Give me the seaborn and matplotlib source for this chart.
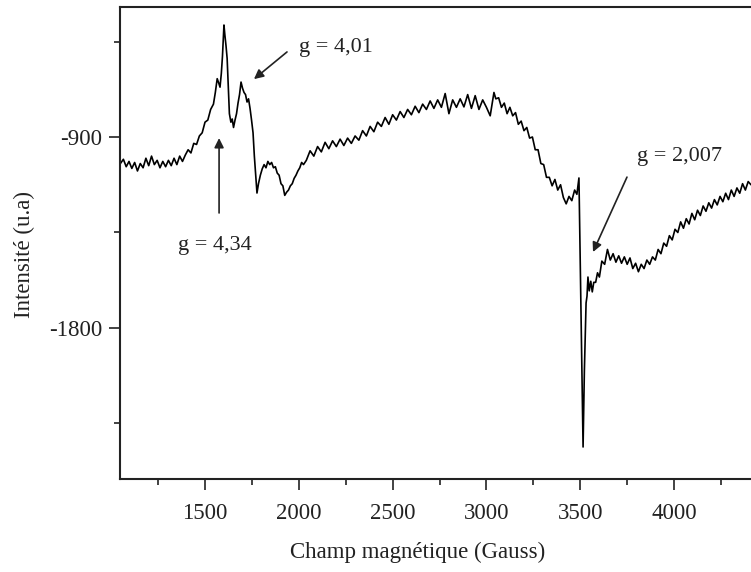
import pandas as pd
import matplotlib
matplotlib.use('Agg')
import matplotlib.pyplot as plt
from matplotlib.ticker import MultipleLocator
import seaborn as sns

# EPR spectrum, split by region
# field in Gauss, intensity in arbitrary units (u.a)

# flat low-field baseline
field_base = [1045, 1065, 1080, 1095, 1110, 1125, 1140, 1155, 1170, 1185, 1200, 1215,
              1230, 1245, 1260, 1275, 1290, 1305, 1320, 1335, 1350, 1365, 1380, 1395]
intens_base = [-1030, -1005, -1040, -1015, -1048, -1020, -1060, -1025, -1045, -1000, -1035, -990,
               -1030, -1010, -1045, -1015, -1040, -1010, -1035, -1000, -1030, -990, -1015, -985]

# g = 4,34 line
field_g434 = [1410, 1425, 1440, 1455, 1470, 1485, 1500, 1515, 1530, 1545, 1555, 1565,
              1573, 1580, 1587, 1593, 1598, 1601, 1606, 1612, 1618, 1624, 1630]
intens_g434 = [-960, -975, -930, -935, -895, -880, -830, -820, -770, -745, -690, -625,
               -645, -665, -600, -520, -430, -372, -420, -470, -530, -660, -790]

# g = 4,01 line
field_g401 = [1638, 1645, 1652, 1660, 1668, 1676, 1684, 1692, 1700, 1708, 1716, 1724,
              1732, 1740, 1748, 1756, 1763, 1770, 1777]
intens_g401 = [-830, -815, -855, -820, -790, -740, -700, -641, -670, -690, -700, -735,
               -720, -765, -820, -880, -990, -1080, -1164]

# dip after the g = 4 lines
field_dip = [1785, 1795, 1805, 1815, 1825, 1835, 1845, 1855, 1865, 1875, 1885, 1895,
             1905, 1915, 1925, 1935, 1945, 1955, 1965, 1975, 1985, 1995, 2005, 2015, 2025]
intens_dip = [-1120, -1080, -1050, -1030, -1045, -1015, -1030, -1020, -1045, -1040, -1070, -1080,
              -1120, -1130, -1175, -1160, -1150, -1130, -1120, -1095, -1080, -1060, -1045, -1020, -1030]

# broad hump
field_broad = [2040, 2060, 2080, 2100, 2120, 2140, 2160, 2180, 2200, 2220,
               2240, 2260, 2280, 2300, 2320, 2340, 2360, 2380, 2400, 2420,
               2440, 2460, 2480, 2500, 2520, 2540, 2560, 2580, 2600, 2620,
               2640, 2660, 2680, 2700, 2720, 2740, 2760, 2780, 2800, 2820,
               2840, 2860, 2880, 2900, 2920, 2940, 2960, 2980, 3000, 3020, 3040, 3050]
intens_broad = [-1010, -965, -990, -945, -970, -925, -955, -918, -945, -910,
                -940, -905, -930, -895, -915, -870, -895, -850, -875, -830,
                -850, -808, -840, -795, -820, -780, -808, -770, -795, -755,
                -785, -745, -770, -730, -765, -725, -760, -695, -790, -725,
                -760, -720, -758, -700, -765, -705, -770, -725, -760, -800, -690, -720]

# fall towards the g = 2,007 line
field_fall = [3065, 3080, 3095, 3110, 3125, 3140, 3155, 3170, 3185, 3200,
              3215, 3230, 3245, 3260, 3275, 3290, 3305, 3320, 3335, 3350,
              3365, 3380, 3395, 3410, 3425, 3440, 3455, 3470, 3482, 3493]
intens_fall = [-715, -760, -740, -790, -760, -800, -785, -840, -825, -870,
               -855, -905, -900, -960, -960, -1025, -1030, -1090, -1090, -1130,
               -1100, -1150, -1125, -1185, -1215, -1180, -1200, -1150, -1170, -1093]

# g = 2,007 line and high-field tail
field_g2 = [3500, 3508, 3515, 3522, 3531, 3536, 3541, 3548, 3556, 3564, 3572, 3582, 3592, 3602,
            3615, 3630, 3645, 3660, 3675, 3690, 3705, 3720, 3735, 3750,
            3765, 3780, 3795, 3810, 3825, 3840, 3855, 3870, 3885, 3900,
            3915, 3930, 3945, 3960, 3975, 3990, 4005, 4020, 4035, 4050,
            4065, 4080, 4095, 4110, 4125, 4140, 4155, 4170, 4185, 4200,
            4215, 4230, 4245, 4260, 4275, 4290, 4305, 4320, 4335, 4350,
            4365, 4380, 4395, 4410]
intens_g2 = [-1500, -1950, -2361, -2000, -1682, -1650, -1560, -1625, -1580, -1630, -1585, -1585, -1540, -1560,
             -1485, -1500, -1430, -1480, -1450, -1490, -1460, -1495, -1465, -1500,
             -1470, -1520, -1495, -1535, -1500, -1520, -1480, -1500, -1465, -1480,
             -1430, -1450, -1400, -1415, -1365, -1385, -1335, -1350, -1300, -1330,
             -1285, -1310, -1260, -1290, -1245, -1270, -1225, -1250, -1210, -1235,
             -1195, -1220, -1180, -1205, -1165, -1195, -1150, -1180, -1140, -1165,
             -1120, -1150, -1110, -1125]

df = pd.DataFrame({
    'field': field_base + field_g434 + field_g401 + field_dip + field_broad + field_fall + field_g2,
    'intensity': intens_base + intens_g434 + intens_g401 + intens_dip + intens_broad + intens_fall + intens_g2,
})

sns.set_style('ticks')
plt.rcParams['font.family'] = ['Liberation Serif', 'DejaVu Serif']
plt.rcParams['axes.unicode_minus'] = False
ink = '#222222'

fig = plt.figure(figsize=(7.51, 5.72), dpi=100)
ax = fig.add_axes([0.1598, 0.1626, 0.8402, 0.8252])

sns.lineplot(data=df, x='field', y='intensity', ax=ax, color='black',
             lw=1.2, estimator=None, sort=False)

ax.set_xlim(1047, 4410)
ax.set_ylim(-2512, -287)
ax.xaxis.set_major_locator(MultipleLocator(500))
ax.xaxis.set_minor_locator(MultipleLocator(250))
ax.yaxis.set_major_locator(MultipleLocator(900))
ax.yaxis.set_minor_locator(MultipleLocator(450))

ax.tick_params(which='major', length=8, width=1.2, color=ink, labelsize=16.5,
               labelcolor=ink, direction='out')
ax.tick_params(axis='x', which='major', pad=9)
ax.tick_params(axis='y', which='major', pad=5)
ax.tick_params(which='minor', length=4.5, width=1.2, color=ink, direction='out')

for side in ['left', 'bottom', 'top']:
    ax.spines[side].set_linewidth(1.5)
    ax.spines[side].set_color(ink)
ax.spines['right'].set_visible(False)

ax.set_xlabel('Champ magnétique (Gauss)', fontsize=16.5, color=ink)
ax.set_ylabel('Intensité (u.a)', fontsize=16.5, color=ink)
ax.xaxis.label.set_va('center')
ax.yaxis.label.set_va('center')
ax.xaxis.set_label_coords(0.472, -0.155)
ax.yaxis.set_label_coords(-0.151, 0.475)

# peak labels with arrows
arrow = dict(arrowstyle='-|>', color=ink, lw=1.2, mutation_scale=14, shrinkA=0, shrinkB=0)
ax.annotate('', xy=(1761, -627), xytext=(1937, -499), arrowprops=arrow)
ax.text(2001, -476, 'g = 4,01', fontsize=16, color=ink, ha='left', va='center')

ax.annotate('', xy=(1575, -905), xytext=(1575, -1258), arrowprops=arrow)
ax.text(1553, -1409, 'g = 4,34', fontsize=16, color=ink, ha='center', va='center')

ax.annotate('', xy=(3568, -1442), xytext=(3749, -1089), arrowprops=arrow)
ax.text(3803, -990, 'g = 2,007', fontsize=16, color=ink, ha='left', va='center')

fig.savefig('out.png', dpi=100)
